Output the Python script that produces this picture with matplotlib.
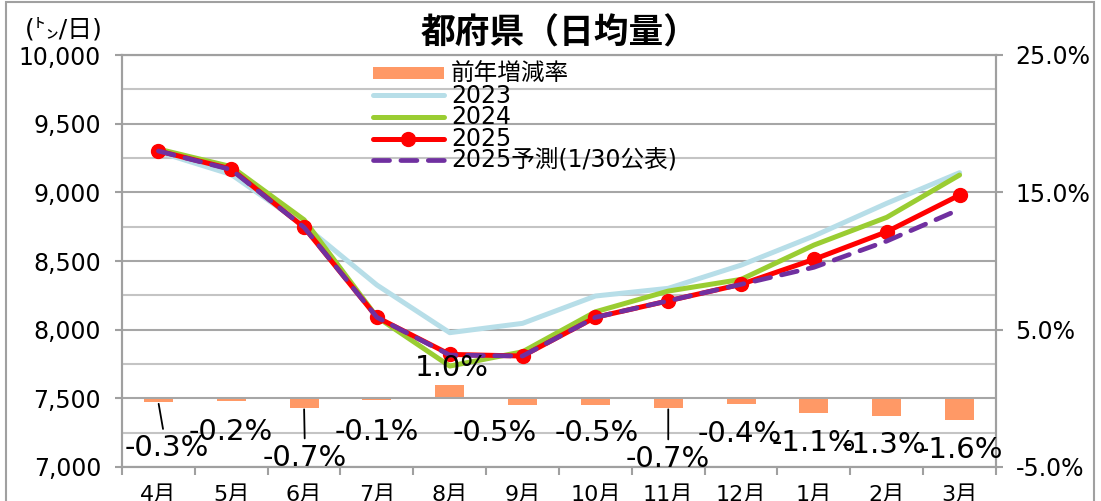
import numpy as np
import matplotlib
matplotlib.use("Agg")
import matplotlib.pyplot as plt
from matplotlib.patches import Rectangle

plt.rcParams['font.family'] = ['DejaVu Sans', 'Noto Sans CJK JP']

months = ['4月', '5月', '6月', '7月', '8月', '9月', '10月', '11月', '12月', '1月', '2月', '3月']
yoy_rate = [-0.3, -0.2, -0.7, -0.1, 1.0, -0.5, -0.5, -0.7, -0.4, -1.1, -1.3, -1.6]
vol_2023 = [9295, 9130, 8760, 8325, 7978, 8046, 8245, 8301, 8470, 8682, 8920, 9143]
vol_2024 = [9315, 9187, 8800, 8092, 7735, 7839, 8130, 8281, 8366, 8616, 8818, 9126]
vol_2025 = [9301, 9170, 8745, 8090, 7820, 7808, 8090, 8210, 8330, 8512, 8713, 8980]
vol_fcst = [9301, 9165, 8745, 8090, 7815, 7808, 8090, 8210, 8330, 8454, 8645, 8876]

# label offsets in pixels from bar end, and which ones get a leader line
label_offsets = [(8, -46), (0, -31), (1, -50), (0, -32), (2, 17), (-28, -28),
                 (1, -28), (0, -51), (-1, -30), (0, -30), (-3, -29), (1, -30)]
leader = [True, False, True, False, False, False, False, True, False, False, False, False]

W, H = 1101, 501
fig = plt.figure(figsize=(W / 100, H / 100), dpi=100)
ax_bar = fig.add_axes([122 / W, 1 - 467 / H, (996 - 122) / W, (467 - 55) / H])
ax_line = ax_bar.twinx()

x = np.arange(len(months))
gray = '#a0a0a0'

# bars (right axis)
bars = ax_bar.bar(x, yoy_rate, width=0.4, color='#FF9966', zorder=2, label='前年増減率')
ax_bar.set_ylim(-5, 25)
ax_bar.set_xlim(-0.5, 11.5)
ax_bar.yaxis.tick_right()
ax_bar.set_yticks([-5, 5, 15, 25])
ax_bar.set_yticklabels(['-5.0%', '5.0%', '15.0%', '25.0%'])
ax_bar.tick_params(axis='y', length=5, width=1.5, color=gray, pad=9, labelsize=17)
ax_bar.set_xticks(x)
ax_bar.set_xticklabels(months)
ax_bar.set_xticks(np.arange(-0.5, 12, 1), minor=True)
ax_bar.tick_params(axis='x', which='major', length=0, pad=13, labelsize=16)
ax_bar.tick_params(axis='x', which='minor', length=6, width=1.5, color=gray)

# lines (left axis)
lw = 3.6
ax_line.plot(x, vol_2023, color='#B7DEE8', lw=lw, solid_capstyle='round', label='2023', zorder=3)
ax_line.plot(x, vol_2024, color='#9ACD32', lw=lw, solid_capstyle='round', label='2024', zorder=4)
ax_line.plot(x, vol_2025, color='#FF0000', lw=lw, marker='o', ms=10, solid_capstyle='round',
             label='2025', zorder=5)
ax_line.plot(x, vol_fcst, color='#7030A0', lw=3.4, ls=(0, (3.4, 2.4)), dash_capstyle='round',
             label='2025予測(1/30公表)', zorder=6)
ax_line.set_ylim(7000, 10000)
ax_line.yaxis.tick_left()
ax_line.set_yticks(np.arange(7000, 10001, 500))
ax_line.set_yticks(np.arange(7000, 10001, 250), minor=True)
ax_line.set_yticklabels([f'{v:,}' for v in range(7000, 10001, 500)])
ax_line.tick_params(axis='y', which='major', length=5, width=1.5, color=gray, pad=10, labelsize=17)
ax_line.tick_params(axis='y', which='minor', length=0)
ax_line.set_axisbelow(True)
ax_line.grid(axis='y', which='major', color='#a6a6a6', lw=1.5)
ax_line.grid(axis='y', which='minor', color='#c4c4c4', lw=1.5)

for a in (ax_bar, ax_line):
    for s in a.spines.values():
        s.set_color(gray)
        s.set_linewidth(1.5)

# data labels
for i, v in enumerate(yoy_rate):
    dx, dy = label_offsets[i]
    kw = {}
    if leader[i]:
        kw['arrowprops'] = dict(arrowstyle='-', color='black', lw=1.3, shrinkA=2, shrinkB=1)
    ax_line.annotate(f'{v:.1f}%', xy=(i, v), xycoords=ax_bar.transData,
                     xytext=(dx, dy), textcoords='offset pixels',
                     ha='center', va='center', fontsize=21, zorder=10, **kw)

# legend
h_line, l_line = ax_line.get_legend_handles_labels()
leg = ax_line.legend([bars] + h_line, ['前年増減率'] + l_line,
                     loc='upper left', bbox_to_anchor=(373 / W, 1 - 62 / H),
                     bbox_transform=fig.transFigure, frameon=False, fontsize=17,
                     handlelength=3.0, handletextpad=0.3, labelspacing=-0.1,
                     borderpad=0, borderaxespad=0, handleheight=0.4)

# title and unit
fig.text(560 / W, 1 - 33 / H, '都府県（日均量）', ha='center', va='center', fontsize=25,
         fontweight='bold', family=['Noto Sans CJK JP', 'DejaVu Sans'])
fig.text(64 / W, 1 - 30 / H, '(㌧/日)', ha='center', va='center', fontsize=18,
         family=['DejaVu Sans', 'Noto Sans CJK JP'])

# chart border
fig.patches.append(Rectangle((6 / W, -0.1), (1094 - 6) / W, 1.1 - 2 / H, transform=fig.transFigure,
                             fill=False, edgecolor='#a0a0a0', lw=1.5))

fig.savefig('out.png', dpi=100)
